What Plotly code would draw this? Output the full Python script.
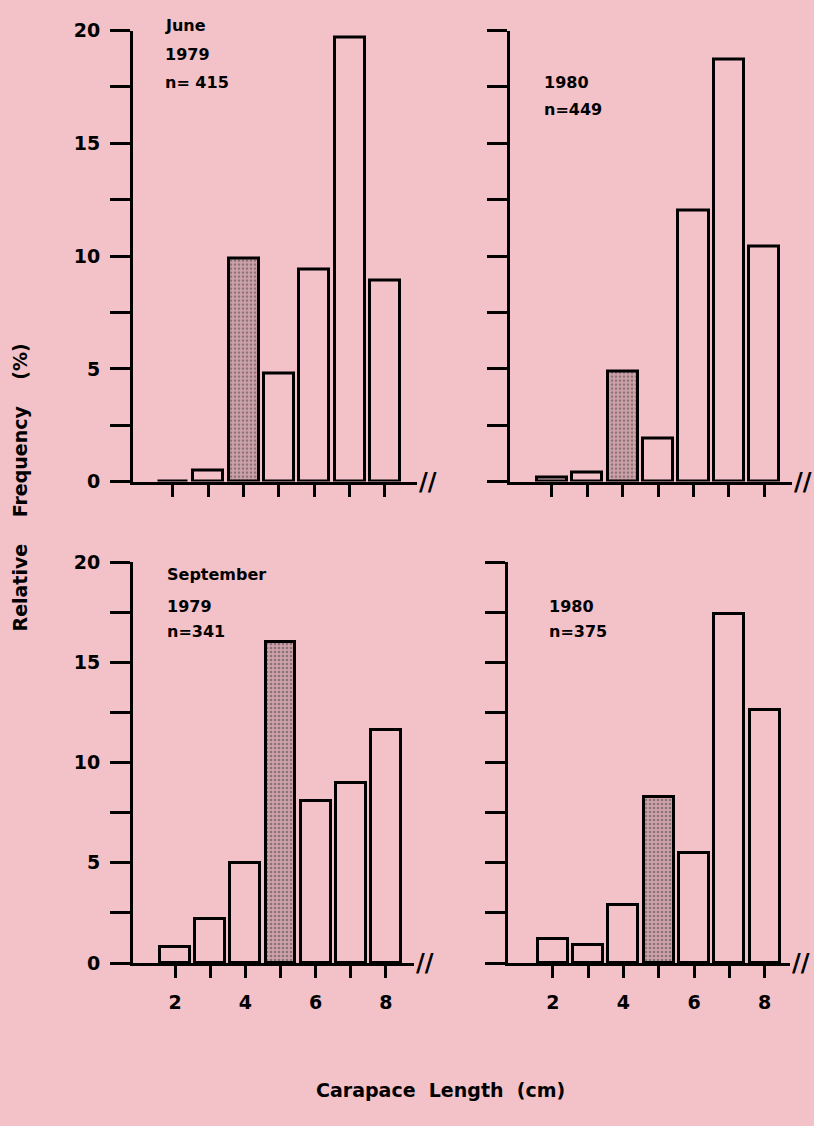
import plotly.graph_objects as go

# ---- data ----
lengths = [2, 3, 4, 5, 6, 7, 8]
june_1979 = [0.0, 0.5, 9.9, 4.8, 9.4, 19.7, 8.9]
june_1980 = [0.2, 0.4, 4.9, 1.9, 12.0, 18.7, 10.4]
sept_1979 = [0.8, 2.2, 5.0, 16.0, 8.1, 9.0, 11.6]
sept_1980 = [1.2, 0.9, 2.9, 8.3, 5.5, 17.4, 12.6]
june_shaded = 4   # shaded size class in June
sept_shaded = 5   # shaded size class in September

y_tickvals = [0, 2.5, 5, 7.5, 10, 12.5, 15, 17.5, 20]
y_ticktext = ["0", "", "5", "", "10", "", "15", "", "20"]
x_ticktext = ["2", "", "4", "", "6", "", "8"]

panel_labels = [
    ["June", "1979", "n= 415"],
    ["1980", "n=449"],
    ["September", "1979", "n=341"],
    ["1980", "n=375"],
]

BG = "#f3c1c8"
SHADE = "#cfa2aa"
FONT = "DejaVu Sans"

fig = go.Figure()

panels = [
    (june_1979, june_shaded, "x", "y"),
    (june_1980, june_shaded, "x2", "y2"),
    (sept_1979, sept_shaded, "x3", "y3"),
    (sept_1980, sept_shaded, "x4", "y4"),
]

for vals, shaded, xa, ya in panels:
    colors = [SHADE if L == shaded else BG for L in lengths]
    shapes = ["." if L == shaded else "" for L in lengths]
    fig.add_trace(go.Bar(
        x=lengths, y=vals, width=0.85, xaxis=xa, yaxis=ya,
        marker=dict(color=colors, line=dict(color="black", width=3),
                    pattern=dict(shape=shapes, fgcolor="#7d6469",
                                 size=4, solidity=0.35)),
        showlegend=False, hoverinfo="x+y",
    ))

W, H = 814, 1126
# pixel geometry of the four plot areas: (left, right, top, bottom)
geo = [
    (133, 417, 20, 480),
    (510, 792, 20, 480),
    (133, 414, 562, 971),
    (508, 790, 562, 971),
]
xranges = [[0.87, 8.91], [0.82, 8.78], [0.8, 8.8], [0.73, 8.72]]

layout = dict(
    width=W, height=H, paper_bgcolor=BG, plot_bgcolor=BG,
    margin=dict(l=0, r=0, t=0, b=0), bargap=0, showlegend=False,
    font=dict(family=FONT, color="black", size=19, weight="bold"),
)

for i, ((l, r, t, b), xr) in enumerate(zip(geo, xranges)):
    sx = "" if i == 0 else str(i + 1)
    bottom_row = i >= 2
    left_col = i % 2 == 0
    layout["xaxis" + sx] = dict(
        domain=[l / W, r / W], range=xr, anchor="y" + sx,
        showline=True, linewidth=3, linecolor="black",
        ticks="outside", ticklen=12, tickwidth=2.5, tickcolor="black",
        tickvals=lengths, ticktext=x_ticktext, ticklabelstandoff=8,
        showticklabels=bottom_row, showgrid=False, zeroline=False,
        tickfont=dict(size=19, family=FONT, weight="bold"),
        fixedrange=True,
    )
    layout["yaxis" + sx] = dict(
        domain=[(H - b) / H, (H - t) / H], range=[0, 20], anchor="x" + sx,
        showline=True, linewidth=3, linecolor="black",
        ticks="outside", ticklen=20, tickwidth=3, tickcolor="black",
        tickvals=y_tickvals, ticktext=y_ticktext, ticklabelstandoff=6,
        showticklabels=left_col, showgrid=False, zeroline=False,
        tickfont=dict(size=19, family=FONT, weight="bold"),
        fixedrange=True,
    )

fig.update_layout(**layout)

# panel labels (in domain coordinates)
label_pos = [
    (0.106, [1.011, 0.946, 0.885]),
    (0.115, [0.885, 0.826]),
    (0.115, [0.968, 0.888, 0.826]),
    (0.139, [0.888, 0.826]),
]
for i, (lines, (lx, lys)) in enumerate(zip(panel_labels, label_pos)):
    sx = "" if i == 0 else str(i + 1)
    for txt, ly in zip(lines, lys):
        fig.add_annotation(
            text=txt, xref="x" + sx + " domain", yref="y" + sx + " domain",
            x=lx, y=ly, xanchor="left", yanchor="middle", showarrow=False,
            font=dict(size=16, family=FONT, weight="bold", color="black"),
        )
    # axis break mark
    fig.add_annotation(
        text="//", xref="x" + sx + " domain", yref="y" + sx + " domain",
        x=1.0, y=0, xanchor="left", yanchor="middle", showarrow=False,
        font=dict(size=24, family=FONT, weight="bold", color="black"),
    )

# shared axis titles
fig.add_annotation(
    text="Carapace\u00a0\u00a0Length\u00a0\u00a0(cm)", xref="paper", yref="paper",
    x=440 / W, y=(H - 1100) / H, xanchor="center", yanchor="middle",
    showarrow=False, font=dict(size=19, family=FONT, weight="bold"),
)
fig.add_annotation(
    text="Relative\u00a0\u00a0\u00a0\u00a0Frequency\u00a0\u00a0\u00a0\u00a0(%)",
    xref="paper", yref="paper",
    x=20 / W, y=(H - 486) / H, xanchor="center", yanchor="middle",
    textangle=-90, showarrow=False, font=dict(size=19, family=FONT, weight="bold"),
)

fig.write_html("out.html")
